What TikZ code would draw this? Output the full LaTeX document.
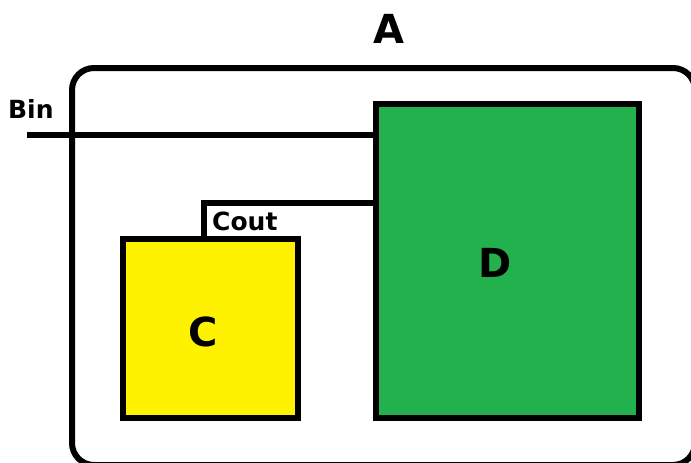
\documentclass[tikz,border=0pt]{standalone}
\usepackage{fontspec}
\setmainfont{DejaVu Sans}
\definecolor{pgreen}{HTML}{22B14C}
\definecolor{pyellow}{HTML}{FFF200}
\begin{document}
\begin{tikzpicture}[x=1pt,y=-1pt,
  wire/.style={line width=5.5pt},
  boxstyle/.style={draw,line width=6pt},
  lbl/.style={font=\bfseries\fontsize{25}{30}\selectfont,inner sep=0pt},
  big/.style={font=\bfseries\fontsize{40}{48}\selectfont,inner sep=0pt}]
\useasboundingbox (0,0) rectangle (691,463);
\clip (0,0) rectangle (691,463);
\fill[white] (0,0) rectangle (691,463);
\draw[line width=6pt,rounded corners=22pt] (72,68) rectangle (695,465);
\node[big] (A) at (389,29) {A};
\draw[boxstyle,fill=pgreen] (376,104) rectangle (639,418);
\node[big] (D) at (495,263) {D};
\draw[boxstyle,fill=pyellow] (123,239) rectangle (298,418);
\node[big] (C) at (203,332) {C};
\coordinate (binstart) at (27,135);
\coordinate (binend) at (376,135);
\draw[wire] (binstart) -- (binend);
\coordinate (coutC) at (204,239);
\coordinate (coutD) at (376,203);
\draw[wire] (coutC) |- (coutD);
\node[lbl,anchor=west] (Bin) at (8,109) {Bin};
\node[lbl,anchor=west] (Cout) at (212,221) {Cout};
\end{tikzpicture}
\end{document}
